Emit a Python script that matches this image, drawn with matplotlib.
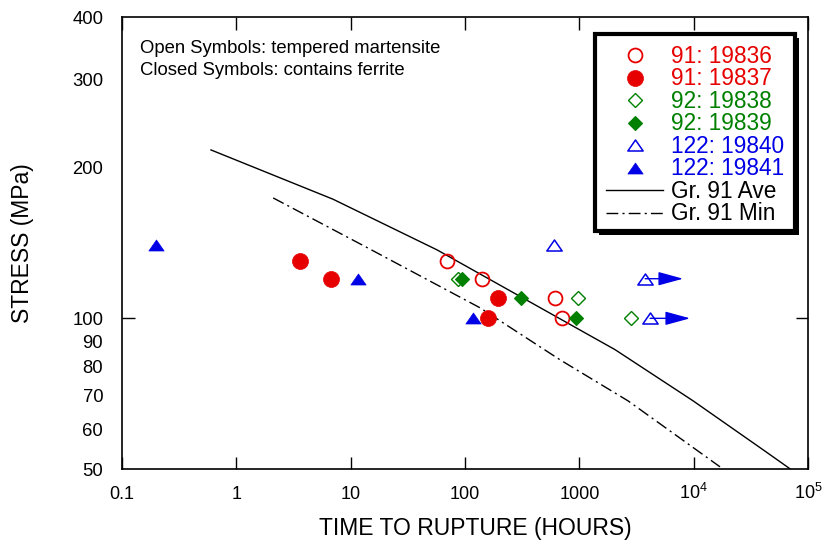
import matplotlib
matplotlib.use("Agg")
import matplotlib.pyplot as plt
from matplotlib.patches import Rectangle
from matplotlib.path import Path
from matplotlib.ticker import FixedLocator, FixedFormatter, NullLocator

plt.rcParams['font.family'] = ['Liberation Sans', 'DejaVu Sans']
plt.rcParams['mathtext.fontset'] = 'custom'
plt.rcParams['mathtext.rm'] = 'Liberation Sans'
plt.rcParams['mathtext.default'] = 'regular'

# ---------------- data ----------------
t_19836 = [70, 141, 614, 700]
s_19836 = [130, 120, 110, 100]
t_19837 = [3.6, 6.7, 195, 159]
s_19837 = [130, 120, 110, 100]
t_19838 = [87, 975, 2840]
s_19838 = [120, 110, 100]
t_19839 = [94, 310, 937]
s_19839 = [120, 110, 100]
t_19840 = [602, 3765, 4160]
s_19840 = [140, 120, 100]
t_19841 = [0.20, 11.6, 118]
s_19841 = [140, 120, 100]

# run-out arrows (still running) for 122: 19840
runout_start = [3765, 4160]
runout_end = [8090, 9310]
runout_stress = [120, 100]

ave_t = [0.6, 7.0, 57, 2050, 9900, 42000, 70000]
ave_s = [217, 173, 137, 86.6, 68.4, 54.3, 50]
min_t = [2.1, 13.9, 135, 680, 2670, 17000]
min_s = [174, 138.5, 105, 82.6, 68.4, 50.5]

x_ticks = [0.1, 1, 10, 100, 1000, 1e4, 1e5]
x_labels = ['0.1', '1', '10', '100', '1000', r'$10^{4}$', r'$10^{5}$']
y_major = [100]
y_major_labels = ['100']
y_minor = [50, 60, 70, 80, 90, 200, 300, 400]
y_minor_labels = ['50', '60', '70', '80', '90', '200', '300', '400']

RED = '#e60000'
GREEN = '#008000'
BLUE = '#0000e6'
TRI = Path([(-0.5, -0.36), (0.5, -0.36), (0.0, 0.36), (-0.5, -0.36)],
           [Path.MOVETO, Path.LINETO, Path.LINETO, Path.CLOSEPOLY])

series = [
    ('91: 19836', t_19836, s_19836, dict(marker='o', ms=10, mfc='none', mec=RED, mew=1.3), RED),
    ('91: 19837', t_19837, s_19837, dict(marker='o', ms=11.5, mfc=RED, mec=RED, mew=0.5), RED),
    ('92: 19838', t_19838, s_19838, dict(marker='D', ms=6.8, mfc='none', mec=GREEN, mew=1.0), GREEN),
    ('92: 19839', t_19839, s_19839, dict(marker='D', ms=6.8, mfc=GREEN, mec=GREEN, mew=0.8), GREEN),
    ('122: 19840', t_19840, s_19840, dict(marker=TRI, ms=11, mfc='none', mec=BLUE, mew=1.1), BLUE),
    ('122: 19841', t_19841, s_19841, dict(marker=TRI, ms=11, mfc=BLUE, mec=BLUE, mew=0.5), BLUE),
]

MIN_STYLE = (0, (8.5, 3, 1.5, 3))

fig = plt.figure(figsize=(8.31, 5.41), dpi=100)
ax = fig.add_axes([122 / 831, 1 - 469 / 541, 686 / 831, 452 / 541])
ax.set_xscale('log')
ax.set_yscale('log')
ax.set_xlim(0.1, 1e5)
ax.set_ylim(50, 400)

ax.plot(ave_t, ave_s, color='black', lw=1.0, zorder=2)
ax.plot(min_t, min_s, color='black', lw=1.0, linestyle=MIN_STYLE, zorder=2)

for label, t, s, st, col in series:
    ax.plot(t, s, linestyle='none', zorder=3, **st)

for x0, x1, y in zip(runout_start, runout_end, runout_stress):
    ax.annotate('', xy=(x1, y), xytext=(x0, y),
                arrowprops=dict(arrowstyle='-|>,head_length=1.1,head_width=0.3',
                                color=BLUE, lw=1.0, shrinkA=0, shrinkB=0,
                                mutation_scale=14), zorder=4)

# ticks
ax.xaxis.set_major_locator(FixedLocator(x_ticks))
ax.xaxis.set_major_formatter(FixedFormatter(x_labels))
ax.xaxis.set_minor_locator(NullLocator())
ax.yaxis.set_major_locator(FixedLocator(y_major))
ax.yaxis.set_major_formatter(FixedFormatter(y_major_labels))
ax.yaxis.set_minor_locator(FixedLocator(y_minor))
ax.yaxis.set_minor_formatter(FixedFormatter(y_minor_labels))
ax.tick_params(axis='x', which='major', direction='in', length=9, width=1.0,
               top=True, labelsize=13, pad=21.5)
ax.tick_params(axis='y', which='major', direction='in', length=9, width=1.0,
               right=True, labelsize=13.3, pad=13.5)
ax.tick_params(axis='y', which='minor', length=0, labelsize=13.3, pad=13.5)
for tk in ax.xaxis.get_major_ticks():
    tk.label1.set_va('baseline')
for sp in ax.spines.values():
    sp.set_linewidth(1.2)

ax.set_xlabel('TIME TO RUPTURE (HOURS)', fontsize=16.5)
ax.set_ylabel('STRESS (MPa)', fontsize=16.5)
ax.xaxis.set_label_coords((475 - 122) / 686, (469 - 535) / 452)
ax.yaxis.set_label_coords((23 - 122) / 686, 0.5)
ax.xaxis.label.set_va('baseline')
ax.yaxis.label.set_va('center')


def px2ax(px, py):
    return (px - 122) / 686, (469 - py) / 452


# annotation text
for txt, py in [('Open Symbols: tempered martensite', 53.3),
                ('Closed Symbols: contains ferrite', 75.3)]:
    x, y = px2ax(140, py)
    ax.text(x, y, txt, transform=ax.transAxes, fontsize=13.3, va='baseline', ha='left')

# legend (drawn by hand for exact layout)
sx0, sy0 = px2ax(599, 235)
sx1, sy1 = px2ax(799, 38)
ax.add_patch(Rectangle((sx0, sy0), sx1 - sx0, sy1 - sy0, transform=ax.transAxes,
                       facecolor='black', edgecolor='black', lw=0, zorder=5, clip_on=False))
bx0, by0 = px2ax(595, 231)
bx1, by1 = px2ax(795, 34)
ax.add_patch(Rectangle((bx0, by0), bx1 - bx0, by1 - by0, transform=ax.transAxes,
                       facecolor='white', edgecolor='black', lw=3, zorder=6, clip_on=False))

row_py = [55 + i * 22.5 for i in range(8)]
entries = [(lab, st, col) for lab, t, s, st, col in series]
for (lab, st, col), py in zip(entries, row_py[:6]):
    mx, my = px2ax(635, py)
    ax.plot([mx], [my], transform=ax.transAxes, linestyle='none', zorder=7,
            clip_on=False, **st)
    tx, ty = px2ax(671, py + 7.6)
    ax.text(tx, ty, lab, transform=ax.transAxes, fontsize=16.3, color=col,
            va='baseline', ha='left', zorder=7)

for lab, ls, py in [('Gr. 91 Ave', '-', row_py[6]), ('Gr. 91 Min', MIN_STYLE, row_py[7])]:
    lx0, ly = px2ax(606, py)
    lx1, _ = px2ax(663, py)
    ax.plot([lx0, lx1], [ly, ly], transform=ax.transAxes, color='black', lw=1.0,
            linestyle=ls, zorder=7, clip_on=False)
    tx, ty = px2ax(671, py + 7.6)
    ax.text(tx, ty, lab, transform=ax.transAxes, fontsize=16.3, color='black',
            va='baseline', ha='left', zorder=7)

fig.savefig('out.png', dpi=100)
